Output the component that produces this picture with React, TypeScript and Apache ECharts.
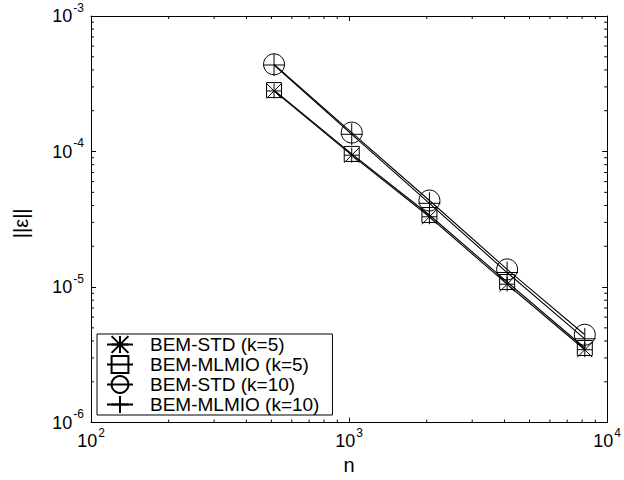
import React, { useEffect, useRef } from "react";
import * as echarts from "echarts";

// Problem sizes (n) and error norms for each method
const nValues = [512, 1024, 2048, 4096, 8192];
const stdK5 = [2.8e-4, 9.4e-5, 3.3e-5, 1.05e-5, 3.45e-6];
const mlmioK5 = [2.84e-4, 9.6e-5, 3.4e-5, 1.09e-5, 3.55e-6];
const stdK10 = [4.4e-4, 1.38e-4, 4.35e-5, 1.35e-5, 4.45e-6];
const mlmioK10 = [4.35e-4, 1.34e-4, 4.15e-5, 1.28e-5, 4.15e-6];

const seriesNames = ["BEM-STD (k=5)", "BEM-MLMIO (k=5)", "BEM-STD (k=10)", "BEM-MLMIO (k=10)"];

const X_MIN = 1e2;
const X_MAX = 1e4;
const Y_MIN = 1e-6;
const Y_MAX = 1e-3;

// Logarithmic minor tick positions (2..9 within each decade)
const xMinorTicks = [2, 3, 4, 5, 6, 7, 8, 9, 20, 30, 40, 50, 60, 70, 80, 90].map((m) => m * 100);
const yMinorTicks = [1e-6, 1e-5, 1e-4].flatMap((d) => [2, 3, 4, 5, 6, 7, 8, 9].map((m) => m * d));

const FONT = "'Liberation Sans', Arial, Helvetica, sans-serif";

const SYM_ASTERISK = "path://M0,0L10,10M10,0L0,10M5,0L5,10M0,5L10,5";
const SYM_SQUARE = "path://M0,0L10,0L10,10L0,10Z";
const SYM_PLUS = "path://M5,0L5,10M0,5L10,5";

const powLabel = (v: number) => `{b|10}{s|${Math.round(Math.log10(v))}}`;

const richPow = {
  b: { fontSize: 18, fontFamily: FONT, color: "#000", verticalAlign: "middle" },
  s: { fontSize: 12, fontFamily: FONT, color: "#000", verticalAlign: "middle", padding: [0, 0, 17, 1] },
};

const lineAxis = { show: true, lineStyle: { color: "#000", width: 1 } };
const majorTick = { show: true, inside: true, length: 5, lineStyle: { color: "#000", width: 1 } };

export default function App() {
  const ref = useRef<HTMLDivElement>(null);

  useEffect(() => {
    if (!ref.current) return;
    const chart = echarts.init(ref.current, null, { renderer: "svg" });

    const makeLine = (name: string, values: number[], symbol: string, size: number) => ({
      name,
      type: "line",
      xAxisIndex: 0,
      yAxisIndex: 0,
      data: nValues.map((n, i) => [n, values[i]]),
      symbol,
      symbolSize: size,
      showSymbol: true,
      lineStyle: { color: "#000", width: 1.1 },
      itemStyle: { color: "transparent", borderColor: "#000", borderWidth: 1 },
      emphasis: { disabled: true },
      z: 3,
    });

    chart.setOption({
      animation: false,
      backgroundColor: "#fff",
      grid: { left: 91, right: 11, top: 16, bottom: 52, containLabel: false },
      xAxis: [
        {
          type: "log",
          logBase: 10,
          min: X_MIN,
          max: X_MAX,
          position: "bottom",
          name: "n",
          nameLocation: "middle",
          nameGap: 29,
          nameTextStyle: { fontSize: 20, fontFamily: FONT, color: "#000" },
          axisLine: lineAxis,
          axisTick: majorTick,
          splitLine: { show: false },
          axisLabel: { formatter: powLabel, rich: richPow, margin: 4 },
        },
        {
          type: "log",
          logBase: 10,
          min: X_MIN,
          max: X_MAX,
          position: "top",
          axisLine: lineAxis,
          axisTick: majorTick,
          splitLine: { show: false },
          axisLabel: { show: false },
        },
      ],
      yAxis: [
        {
          type: "log",
          logBase: 10,
          min: Y_MIN,
          max: Y_MAX,
          position: "left",
          name: "||\u03b5||",
          nameLocation: "middle",
          nameGap: 60,
          nameTextStyle: { fontSize: 20, fontFamily: FONT, color: "#000", padding: [0, 8, 0, 0] },
          axisLine: lineAxis,
          axisTick: majorTick,
          splitLine: { show: false },
          axisLabel: { formatter: powLabel, rich: richPow, margin: 7 },
        },
        {
          type: "log",
          logBase: 10,
          min: Y_MIN,
          max: Y_MAX,
          position: "right",
          axisLine: lineAxis,
          axisTick: majorTick,
          splitLine: { show: false },
          axisLabel: { show: false },
        },
      ],
      legend: {
        orient: "vertical",
        left: 97,
        top: 334,
        data: seriesNames,
        backgroundColor: "#fff",
        borderColor: "#000",
        borderWidth: 1,
        borderRadius: 0,
        padding: [1, 13, 1, 9],
        itemGap: 1,
        itemWidth: 26,
        itemHeight: 21,
        selectedMode: false,
        textStyle: { fontSize: 19, fontFamily: FONT, color: "#000", padding: [0, 0, 0, 12] },
      },
      series: [
        makeLine(seriesNames[0], stdK5, SYM_ASTERISK, 15),
        makeLine(seriesNames[1], mlmioK5, SYM_SQUARE, 15),
        makeLine(seriesNames[2], stdK10, "circle", 21),
        makeLine(seriesNames[3], mlmioK10, SYM_PLUS, 22),
        {
          // minor ticks along the bottom and top edges
          type: "custom",
          name: "xMinor",
          xAxisIndex: 0,
          yAxisIndex: 0,
          clip: false,
          silent: true,
          data: xMinorTicks.map((v) => [v, Y_MIN]),
          renderItem: (_p: any, api: any) => {
            const b = api.coord([api.value(0), Y_MIN]);
            const t = api.coord([api.value(0), Y_MAX]);
            const st = { stroke: "#000", lineWidth: 1 };
            return {
              type: "group",
              children: [
                { type: "line", shape: { x1: b[0], y1: b[1], x2: b[0], y2: b[1] - 3 }, style: st },
                { type: "line", shape: { x1: t[0], y1: t[1], x2: t[0], y2: t[1] + 3 }, style: st },
              ],
            };
          },
        },
        {
          // minor ticks along the left and right edges
          type: "custom",
          name: "yMinor",
          xAxisIndex: 0,
          yAxisIndex: 0,
          clip: false,
          silent: true,
          data: yMinorTicks.map((v) => [X_MIN, v]),
          renderItem: (_p: any, api: any) => {
            const l = api.coord([X_MIN, api.value(1)]);
            const r = api.coord([X_MAX, api.value(1)]);
            const st = { stroke: "#000", lineWidth: 1 };
            return {
              type: "group",
              children: [
                { type: "line", shape: { x1: l[0], y1: l[1], x2: l[0] + 3, y2: l[1] }, style: st },
                { type: "line", shape: { x1: r[0], y1: r[1], x2: r[0] - 3, y2: r[1] }, style: st },
              ],
            };
          },
        },
      ],
    });

    return () => chart.dispose();
  }, []);

  return (
    <div
      ref={ref}
      style={{ position: "absolute", left: 0, top: 0, width: 624, height: 480, background: "#fff" }}
    />
  );
}
